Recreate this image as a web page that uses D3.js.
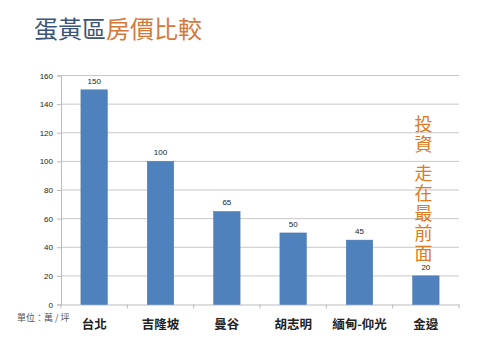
<!DOCTYPE html>
<html>
<head>
<meta charset="utf-8">
<script src="https://cdn.jsdelivr.net/npm/d3@7"></script>
<style>
  body { margin: 0; background: #fff; }
  text { font-family: "Noto Sans CJK TC", "Noto Sans", sans-serif; }
</style>
</head>
<body>
<svg width="500" height="354"></svg>
<script>
const cities = ["台北", "吉隆坡", "曼谷", "胡志明", "緬甸-仰光", "金邊"];
const prices = [150, 100, 65, 50, 45, 20];
const yTicks = [0, 20, 40, 60, 80, 100, 120, 140, 160];
const slogan = ["投資", "走在最前面"];

const svg = d3.select("svg");

const PLOT_L = 61, PLOT_R = 459, PLOT_T = 75.5, PLOT_B = 304.5;

const x = d3.scaleBand()
            .domain(cities)
            .range([PLOT_L, PLOT_R])
            .paddingInner(0.6)
            .paddingOuter(0.3);

const y = d3.scaleLinear()
            .domain([0, 160])
            .range([PLOT_B, PLOT_T]);

// title
const title = svg.append("text")
                 .attr("x", 34)
                 .attr("y", 38)
                 .style("font-size", "24px");
title.append("tspan").attr("fill", "#3b5678").text("蛋黃區");
title.append("tspan").attr("fill", "#d5793a").text("房價比較");

// gridlines
svg.append("g")
   .selectAll("line")
   .data(yTicks.filter(d => d > 0))
   .join("line")
   .attr("x1", PLOT_L).attr("x2", PLOT_R)
   .attr("y1", d => y(d)).attr("y2", d => y(d))
   .attr("stroke", "#c8c8c8")
   .attr("stroke-width", 1);

// y axis
const yAxis = svg.append("g")
                 .attr("transform", `translate(${PLOT_L},0)`)
                 .call(d3.axisLeft(y).tickValues(yTicks).tickSize(4).tickPadding(4));
yAxis.selectAll("path, line").attr("stroke", "#bbb");
yAxis.selectAll("text").style("font-size", "8px").attr("fill", "#222")
     .style("font-family", "'Liberation Sans', Arial, sans-serif");

// x axis
const xAxis = svg.append("g")
                 .attr("transform", `translate(0,${PLOT_B})`)
                 .call(d3.axisBottom(x).tickSize(0).tickPadding(16));
xAxis.select("path").attr("stroke", "#bbb");
xAxis.selectAll("text").style("font-size", "12.5px").style("font-weight", "bold").attr("fill", "#222");

// category boundary ticks
svg.append("g")
   .selectAll("line")
   .data(d3.range(cities.length + 1))
   .join("line")
   .attr("x1", i => PLOT_L + i * (PLOT_R - PLOT_L) / cities.length)
   .attr("x2", i => PLOT_L + i * (PLOT_R - PLOT_L) / cities.length)
   .attr("y1", PLOT_B).attr("y2", PLOT_B + 4)
   .attr("stroke", "#bbb");

// bars
svg.append("g")
   .selectAll("rect")
   .data(prices)
   .join("rect")
   .attr("x", (d, i) => x(cities[i]))
   .attr("width", x.bandwidth())
   .attr("y", d => y(d))
   .attr("height", d => PLOT_B - y(d))
   .attr("fill", "#4f81bd")
   .attr("stroke", "#4a7ab3")
   .attr("stroke-width", 0.5);

// value labels
svg.append("g")
   .selectAll("text")
   .data(prices)
   .join("text")
   .attr("x", (d, i) => x(cities[i]) + x.bandwidth() / 2)
   .attr("y", d => y(d) - 6)
   .attr("text-anchor", "middle")
   .style("font-size", "8px")
   .style("font-family", "'Liberation Sans', Arial, sans-serif")
   .attr("fill", "#222")
   .text(d => d);

// unit note
svg.append("text")
   .attr("x", 17)
   .attr("y", 321)
   .style("font-size", "9px")
   .attr("fill", "#555")
   .text("單位：萬 / 坪");

// vertical slogan
svg.append("g")
   .selectAll("text")
   .data(slogan)
   .join("text")
   .attr("x", 423.5)
   .attr("y", (d, i) => i === 0 ? 115 : 164)
   .style("writing-mode", "vertical-rl")
   .style("font-size", "18px")
   .style("letter-spacing", "2px")
   .attr("fill", "#e07a22")
   .text(d => d);
</script>
</body>
</html>
